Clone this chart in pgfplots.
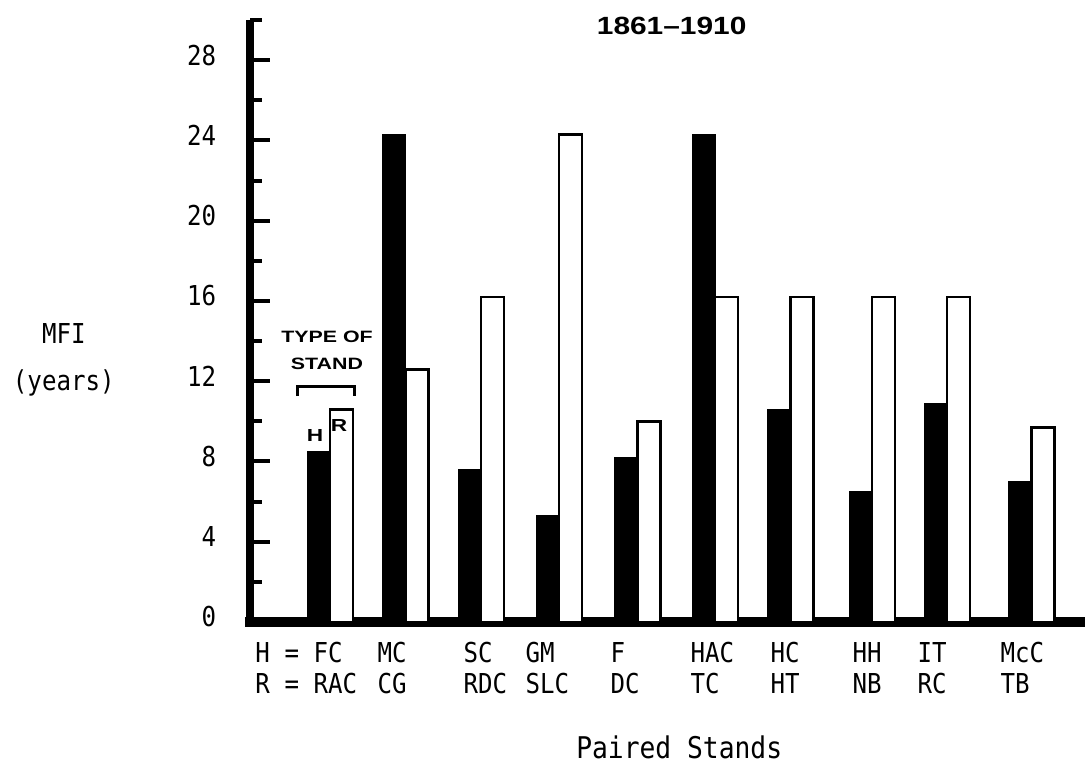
\documentclass[border=0pt]{standalone}
\usepackage{fontspec}
\usepackage{pgfplots}
\pgfplotsset{compat=1.18}
\newfontfamily\lgmono{DejaVu Sans Mono}[FakeStretch=0.88]
\newfontfamily\hb{Liberation Sans}[FakeStretch=1.2]
\newfontfamily\hbw{Liberation Sans}[FakeStretch=1.3]
\newcommand\lgf{\lgmono\fontsize{11}{12.4}\selectfont}

\begin{document}
\begin{tikzpicture}
\useasboundingbox (0,0) rectangle (434bp,306.8bp);
\begin{axis}[
  at={(100bp,58bp)}, anchor=south west,
  scale only axis, width=334bp, height=240.8bp,
  xmin=250, xmax=1085, ymin=0, ymax=30,
  axis x line=bottom, axis y line=left,
  axis line style={-},
  x axis line style={line width=4bp, line cap=rect},
  y axis line style={line width=3bp},
  ytick={0,4,...,28}, minor ytick={2,6,...,30},
  tick align=inside,
  major tick length=8bp, minor tick length=4.8bp,
  every tick/.style={black, line width=1.6bp},
  major x tick style={draw=none},
  xtick={255,377,463,525,610,690,770,852,917,1000},
  xticklabels={{H = FC\\R = RAC},{MC\\CG},{SC\\RDC},{GM\\SLC},{F\\DC},
    {HAC\\TC},{HC\\HT},{HH\\NB},{IT\\RC},{McC\\TB}},
  xticklabel style={anchor=north west, align=left, inner sep=0pt,
    font=\lgf, yshift=-8bp},
  /pgf/number format/assume math mode=true,
  yticklabel style={font=\lgf, xshift=-10bp, yshift=2bp},
  title={1861\textendash1910},
  every axis title/.style={at={(axis description cs:0.505,0.99)},
    anchor=center, font=\hb\bfseries\fontsize{10}{12}\selectfont},
  xlabel={Paired Stands},
  every axis x label/.style={at={(axis description cs:0.514,-0.209)},
    anchor=center, font=\lgmono\fontsize{12}{14}\selectfont},
  ylabel={MFI\\(years)},
  every axis y label/.style={at={(axis description cs:-0.223,0.435)},
    anchor=center, align=center, font=\lgmono\fontsize{11}{18.8}\selectfont},
]
% H stands (black)
\addplot[ybar, bar width=23, bar shift=0pt, fill=black, draw=black]
  coordinates {(318.5,8.5)(394,24.3)(469.5,7.6)(547.5,5.3)(626,8.2)
    (703.5,24.3)(779,10.6)(860.5,6.5)(935.5,10.9)(1020,7.0)};
% R stands (white)
\addplot[ybar, bar width=23, bar shift=0pt, fill=white, draw=black, line width=1.1bp]
  coordinates {(341.5,10.6)(417,12.6)(492.5,16.2)(570.5,24.3)(649,10.0)
    (726.5,16.2)(802,16.2)(883.5,16.2)(958.5,16.2)(1043,9.7)};

\node[font=\hbw\bfseries\fontsize{6.6}{10.8}\selectfont, align=center]
  at (axis cs:327,13.55) {TYPE OF\\STAND};
\draw[line width=1.2bp] (axis cs:297,11.26) |- (axis cs:354,11.76) -- (axis cs:354,11.26);
\node[font=\hbw\bfseries\fontsize{7}{8}\selectfont] at (axis cs:315,9.27) {H};
\node[font=\hbw\bfseries\fontsize{7}{8}\selectfont] at (axis cs:339,9.77) {R};
\end{axis}
\end{tikzpicture}
\end{document}
